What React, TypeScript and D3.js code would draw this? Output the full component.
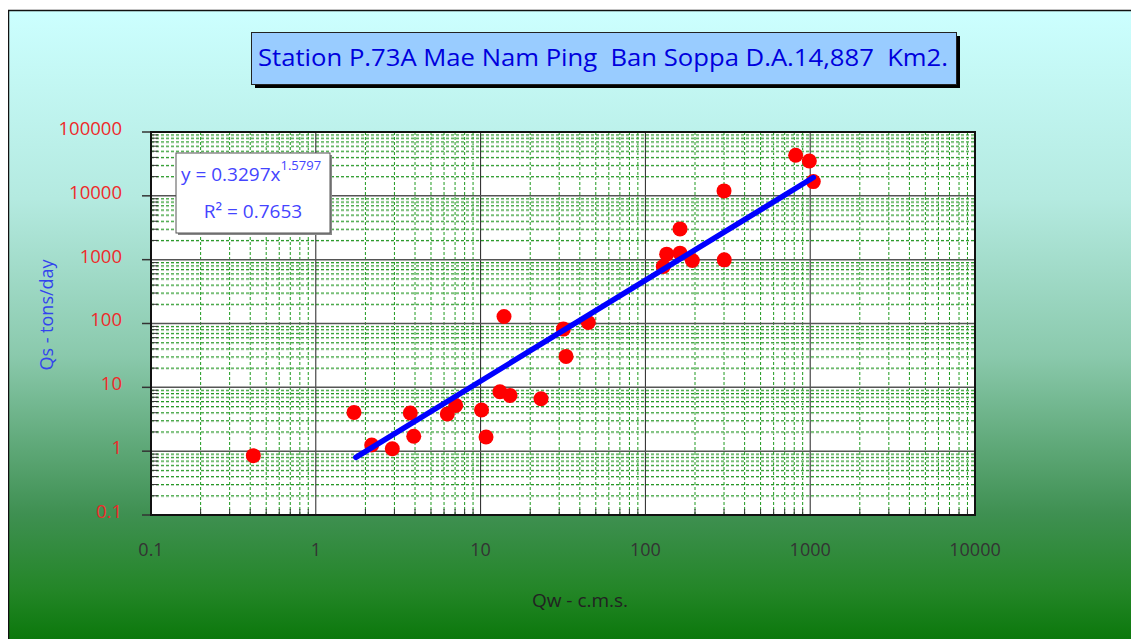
import React from "react";
import * as d3 from "d3";

const qw = [0.418, 1.705, 2.184, 2.912, 3.745, 3.93, 6.28, 7.06, 10.13, 10.79, 13.1, 13.87, 15.08, 23.26, 31.8, 33.0, 45.0, 128.4, 134.6, 162.2, 162.2, 192.6, 300, 301, 816, 988, 1044];
const qs = [0.851, 4.05, 1.25, 1.09, 3.96, 1.71, 3.82, 5.21, 4.41, 1.67, 8.53, 128.8, 7.47, 6.63, 81.7, 30.5, 103.7, 780, 1219, 3034, 1264, 968, 11940, 993, 43200, 35200, 16700];

const trendCoef = 0.3297;
const trendExp = 1.5797;
const trendStart = 1.75;
const r2 = "0.7653";

const xTickLabels = ["0.1", "1", "10", "100", "1000", "10000"];
const yTickLabels = ["0.1", "1", "10", "100", "1000", "10000", "100000"];

const titleText = "Station P.73A Mae Nam Ping  Ban Soppa D.A.14,887  Km2.";
const xTitle = "Qw - c.m.s.";
const yTitle = "Qs - tons/day";

const FONT = "'Open Sans', 'DejaVu Sans', sans-serif";

export default function App() {
  const L = 151, R = 975, T = 132, B = 515;
  const x = d3.scaleLog().domain([0.1, 10000]).range([L, R]);
  const y = d3.scaleLog().domain([0.1, 100000]).range([B, T]);
  const isMajor = (v: number) => Math.abs(Math.log10(v) - Math.round(Math.log10(v))) < 1e-9;
  const xt = x.ticks();
  const yt = y.ticks();
  const xEnd = d3.max(qw) as number;
  const trendX = [trendStart, xEnd];
  const line = d3.line<number>().x((d) => x(d)).y((d) => y(trendCoef * Math.pow(d, trendExp)));

  return (
    <svg width={1131} height={631} style={{ display: "block", overflow: "hidden" }}>
      <defs>
        <linearGradient id="bg" gradientUnits="userSpaceOnUse" x1="0" y1="10" x2="0" y2="639">
          <stop offset="0" stopColor="#ccffff" />
          <stop offset="0.3" stopColor="#b4eae0" />
          <stop offset="0.55" stopColor="#8ac9ac" />
          <stop offset="0.8" stopColor="#3f9052" />
          <stop offset="0.92" stopColor="#248628" />
          <stop offset="1" stopColor="#0c780c" />
        </linearGradient>
      </defs>
      <g transform="translate(-8,-8)">
        <rect x={8.5} y={10.5} width={1200} height={700} fill="url(#bg)" stroke="#111" strokeWidth={1.5} />

        {/* title */}
        <rect x={255} y={36} width={705} height={52} fill="#000" />
        <rect x={251.5} y={32.5} width={705} height={52} fill="#99ccff" stroke="#222" strokeWidth={1} />
        <text x={258} y={66} xmlSpace="preserve" style={{ whiteSpace: "pre" }} fontFamily={FONT} fontSize={24} fill="#0000dd" textLength={690} lengthAdjust="spacingAndGlyphs">{titleText}</text>

        {/* plot area */}
        <rect x={L} y={T} width={R - L} height={B - T} fill="#fff" />
        {xt.filter((v) => !isMajor(v)).map((v, i) => (
          <line key={"xm" + i} x1={x(v)} x2={x(v)} y1={T} y2={B} stroke="#1e9a1e" strokeWidth={1} strokeDasharray="3,2" />
        ))}
        {yt.filter((v) => !isMajor(v)).map((v, i) => (
          <g key={"ym" + i}>
            <line x1={L} x2={R} y1={y(v) + 1} y2={y(v) + 1} stroke="#c4d4c4" strokeWidth={1} strokeDasharray="3,2" />
            <line x1={L} x2={R} y1={y(v)} y2={y(v)} stroke="#1e9a1e" strokeWidth={1} strokeDasharray="3,2" />
          </g>
        ))}
        {xt.filter(isMajor).map((v, i) => (
          <line key={"xM" + i} x1={x(v)} x2={x(v)} y1={T} y2={B} stroke="#222" strokeWidth={1} />
        ))}
        {yt.filter(isMajor).map((v, i) => (
          <line key={"yM" + i} x1={L} x2={R} y1={y(v)} y2={y(v)} stroke="#555" strokeWidth={1.5} />
        ))}
        {/* ticks */}
        {yt.map((v, i) => (
          isMajor(v)
            ? <line key={"yt" + i} x1={L - 9} x2={L} y1={y(v)} y2={y(v)} stroke="#333" strokeWidth={1.5} />
            : <line key={"yt" + i} x1={L} x2={L + 7} y1={y(v)} y2={y(v)} stroke="#333" strokeWidth={1} />
        ))}
        {xt.map((v, i) => (
          isMajor(v) ? null : <line key={"xt" + i} x1={x(v)} x2={x(v)} y1={B} y2={B - 6} stroke="#333" strokeWidth={1} />
        ))}
        <rect x={L} y={T} width={R - L} height={B - T} fill="none" stroke="#111" strokeWidth={2} />

        {/* points */}
        {qw.map((v, i) => (
          <circle key={"p" + i} cx={x(v)} cy={y(qs[i])} r={7.5} fill="#ff0000" />
        ))}
        <path d={line(trendX) || ""} stroke="#0000ff" strokeWidth={5.5} strokeLinecap="round" fill="none" />

        {/* legend */}
        <rect x={178} y={155} width={154} height={80} fill="#888" />
        <rect x={176} y={153} width={154} height={80} fill="#fff" stroke="#555" strokeWidth={1} />
        <text x={181} y={181} fontFamily={FONT} fontSize={19} fill="#4444ff">
          y = 0.3297x<tspan dy={-11} fontSize={13}>{trendExp.toFixed(4)}</tspan>
        </text>
        <text x={253} y={218} textAnchor="middle" fontFamily={FONT} fontSize={19} fill="#4444ff">{"R\u00b2 = " + r2}</text>

        {/* axis labels */}
        {yTickLabels.map((t, i) => (
          <text key={"yl" + i} x={122} y={y(+t) - 2} textAnchor="end" dominantBaseline="middle" fontFamily={FONT} fontSize={18.5} fill="#ee2a2a">{t}</text>
        ))}
        {xTickLabels.map((t, i) => (
          <text key={"xl" + i} x={x(+t)} y={551} textAnchor="middle" dominantBaseline="middle" fontFamily={FONT} fontSize={18} fill="#333">{t}</text>
        ))}
        <text x={580} y={602} textAnchor="middle" dominantBaseline="middle" fontFamily={FONT} fontSize={19} fill="#222">{xTitle}</text>
        <text transform="translate(48,315) rotate(-90)" textAnchor="middle" dominantBaseline="middle" fontFamily={FONT} fontSize={18} fill="#3344ee">{yTitle}</text>
      </g>
    </svg>
  );
}
